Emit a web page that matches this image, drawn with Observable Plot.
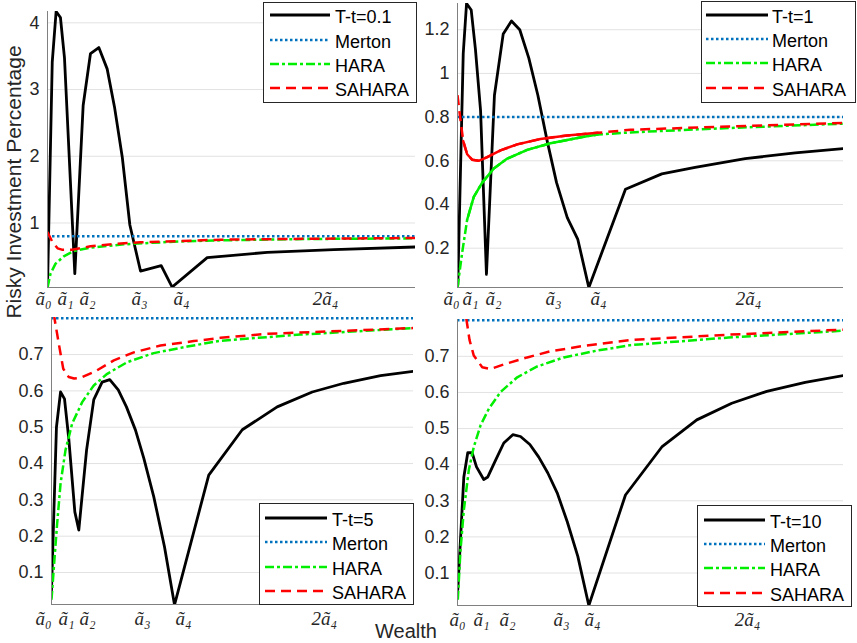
<!DOCTYPE html>
<html><head><meta charset="utf-8">
<script src="https://cdn.jsdelivr.net/npm/d3@7"></script>
<script src="https://cdn.jsdelivr.net/npm/@observablehq/plot@0.6"></script>
<style>
body{margin:0;background:#fff;}
#root{position:relative;width:857px;height:643px;overflow:hidden;font-family:"Liberation Sans",Arial,sans-serif;color:#262626;}
.abs{position:absolute;}
</style></head><body><div id="root"></div>
<script>
// ---------- data ----------
const xDomain = [0.07, 2.63];
const tickNames = ["ã₀","ã₁","ã₂","ã₃","ã₄","2ã₄"];
const merton = 0.8;

// T-t = 0.1
const w01 = [0.07,0.103,0.13,0.16,0.188,0.26,0.318,0.369,0.427,0.485,0.536,0.59,0.643,0.717,0.861,0.937,1.181,1.598,2.062,2.63];
const pi01 = [0.04,3.41,4.17,4.08,3.48,0.24,2.76,3.54,3.63,3.31,2.74,1.99,0.97,0.28,0.36,0.04,0.48,0.56,0.60,0.64];
const hw01 = [0.07,0.091,0.126,0.183,0.253,0.369,0.601,0.949,1.273,1.9,2.63];
const hara01 = [0.03,0.24,0.39,0.50,0.58,0.63,0.68,0.72,0.74,0.76,0.77];
const sw01 = [0.07,0.103,0.14,0.17,0.24,0.369,0.555,0.717,1.273,2.0,2.63];
const sahara01 = [0.865,0.72,0.62,0.60,0.60,0.65,0.69,0.71,0.75,0.765,0.775];
const ticks01 = [0.042,0.195,0.348,0.71,1.002,2.004];
const yTicks01 = [1,2,3,4];

// T-t = 1
const w1 = [0.072,0.108,0.13,0.161,0.189,0.223,0.262,0.315,0.373,0.428,0.483,0.543,0.603,0.665,0.727,0.798,0.868,0.941,1.184,1.425,1.646,1.978,2.31,2.63];
const pi1 = [0.03,1.09,1.32,1.29,1.11,0.83,0.08,0.90,1.18,1.24,1.20,1.07,0.90,0.69,0.50,0.34,0.24,0.02,0.47,0.54,0.57,0.61,0.636,0.656];
const hw1 = [0.07,0.101,0.134,0.178,0.234,0.311,0.40,0.532,0.687,0.908,1.0,1.217,1.867,2.63];
const hara1 = [0.02,0.18,0.33,0.435,0.50,0.565,0.61,0.65,0.68,0.71,0.72,0.73,0.75,0.77];
const sw1 = [0.07,0.09,0.108,0.134,0.167,0.211,0.267,0.355,0.466,0.62,0.797,1.0,1.217,1.867,2.63];
const sahara1 = [0.90,0.785,0.69,0.63,0.605,0.60,0.617,0.648,0.675,0.70,0.716,0.728,0.742,0.757,0.773];
const ticks1 = [0.03,0.156,0.309,0.707,1.005,2.0];
const yTicks1 = [0.2,0.4,0.6,0.8,1,1.2];

// T-t = 5
const w5 = [0.07,0.105,0.134,0.162,0.192,0.235,0.263,0.318,0.369,0.428,0.482,0.542,0.60,0.664,0.723,0.793,0.869,0.94,1.182,1.419,1.666,1.914,2.137,2.397,2.632];
const pi5 = [0.05,0.50,0.597,0.578,0.469,0.267,0.217,0.437,0.576,0.624,0.631,0.603,0.556,0.492,0.414,0.309,0.171,0.011,0.368,0.493,0.556,0.597,0.621,0.642,0.654];
const hw5 = [0.07,0.087,0.11,0.134,0.169,0.216,0.287,0.369,0.464,0.605,0.793,1.03,1.265,1.83,2.632];
const hara5 = [0.025,0.116,0.235,0.345,0.437,0.51,0.569,0.615,0.647,0.679,0.704,0.722,0.738,0.755,0.773];
const sw5 = [0.07,0.091,0.122,0.153,0.192,0.23,0.275,0.381,0.511,0.652,0.841,1.076,1.265,1.595,2.632];
const sahara5 = [0.90,0.80,0.729,0.661,0.638,0.634,0.636,0.654,0.684,0.706,0.725,0.737,0.746,0.757,0.773];
const ticks5 = [0.013,0.176,0.325,0.714,1.003,2.0];
const yTicks5 = [0.1,0.2,0.3,0.4,0.5,0.6,0.7];

// T-t = 10
const w10 = [0.072,0.112,0.138,0.167,0.196,0.244,0.271,0.322,0.377,0.437,0.488,0.55,0.609,0.669,0.731,0.798,0.868,0.941,1.184,1.425,1.657,1.889,2.121,2.376,2.63];
const pi10 = [0.054,0.366,0.433,0.433,0.394,0.359,0.366,0.412,0.46,0.483,0.478,0.456,0.421,0.377,0.322,0.242,0.146,0.01,0.316,0.449,0.524,0.570,0.603,0.628,0.647];
const hw10 = [0.072,0.09,0.112,0.145,0.178,0.223,0.278,0.355,0.466,0.599,0.775,0.997,1.217,1.867,2.63];
const hara10 = [0.026,0.164,0.274,0.385,0.449,0.509,0.555,0.601,0.642,0.672,0.697,0.716,0.731,0.752,0.771];
const sw10 = [0.072,0.13,0.15,0.178,0.234,0.289,0.388,0.532,0.687,0.908,1.217,1.867,2.63];
const sahara10 = [0.98,0.80,0.745,0.702,0.67,0.665,0.679,0.697,0.714,0.729,0.745,0.76,0.774];
const ticks10 = [0.07,0.229,0.402,0.76,0.965,1.993];
const yTicks10 = [0.1,0.2,0.3,0.4,0.5,0.6,0.7];

// ---------- layout / styles ----------
const S = {
  black:{stroke:"#000", width:2.8, dash:null},
  merton:{stroke:"#0072BD", width:2.5, dash:"2.5,2.5"},
  hara:{stroke:"#00ee00", width:2.5, dash:"9,3,3,3"},
  sahara:{stroke:"#ff0000", width:2.5, dash:"10,6"}
};
const panels = [
  {label:"T-t=0.1", w:w01, pi:pi01, hw:hw01, hara:hara01, sw:sw01, sahara:sahara01, ticks:ticks01, yTicks:yTicks01, yDomain:[0.033,4.17], solid:null,
   box:{left:0, top:0, width:428, height:320, mL:47, mR:13, mT:11, mB:33, pad:4},
   leg:{left:263, top:2, w:154, h:101, x0:7, x1:67, tx:72, rows:[13,38,62,86]}},
  {label:"T-t=1", w:w1, pi:pi1, hw:hw1, hara:hara1, sw:sw1, sahara:sahara1, ticks:ticks1, yTicks:yTicks1, yDomain:[0.02,1.32], solid:{hara:[0.134,1.0], sahara:[0.108,1.0]},
   box:{left:410, top:0, width:447, height:320, mL:47, mR:14, mT:3, mB:33, pad:4},
   leg:{left:701, top:1, w:155, h:102, x0:5, x1:67, tx:71, rows:[14,38,62,87]}},
  {label:"T-t=5", w:w5, pi:pi5, hw:hw5, hara:hara5, sw:sw5, sahara:sahara5, ticks:ticks5, yTicks:yTicks5, yDomain:[0.012,0.802], solid:null,
   box:{left:0, top:310, width:428, height:333, mL:51, mR:15, mT:7, mB:39, pad:7},
   leg:{left:259, top:503, w:155, h:102, x0:6, x1:68, tx:73, rows:[15,39,64,88]}},
  {label:"T-t=10", w:w10, pi:pi10, hw:hw10, hara:hara10, sw:sw10, sahara:sahara10, ticks:ticks10, yTicks:yTicks10, yDomain:[0.01,0.802], solid:null,
   box:{left:410, top:310, width:447, height:333, mL:47, mR:14, mT:9, mB:38, pad:7},
   leg:{left:697, top:505, w:155, h:102, x0:7, x1:68, tx:73, rows:[15,39,63,88]}}
];

const root = document.getElementById("root");
const zip = (xs, ys) => xs.map((x, i) => ({x, y: ys[i]}));
const lineOpts = (s, dash = s.dash) => ({x:"x", y:"y", stroke:s.stroke, strokeWidth:s.width, strokeDasharray:dash, strokeLinecap: dash ? "butt" : "round", strokeLinejoin:"round", clip:true});
const within = (rows, r) => rows.filter(d => d.x >= r[0] && d.x <= r[1]);

for (const p of panels) {
  const b = p.box;
  const tickMap = new Map(p.ticks.map((t, i) => [t, tickNames[i]]));
  const haraRows = zip(p.hw, p.hara), saharaRows = zip(p.sw, p.sahara);
  const extra = p.solid ? [
    Plot.line(within(haraRows, p.solid.hara), lineOpts(S.hara, null)),
    Plot.line(within(saharaRows, p.solid.sahara), lineOpts(S.sahara, null))
  ] : [];
  const chart = Plot.plot({
    width:b.width, height:b.height,
    marginLeft:b.mL, marginRight:b.mR, marginTop:b.mT, marginBottom:b.mB,
    style:{background:"transparent", overflow:"visible", fontFamily:"Liberation Sans, Arial, sans-serif", fontSize:"18px", color:"#262626"},
    x:{domain:xDomain},
    y:{domain:p.yDomain},
    marks:[
      Plot.gridY(p.yTicks, {stroke:"#e2e2e2", strokeOpacity:1, strokeWidth:1}),
      Plot.axisY(p.yTicks, {tickSize:0, tickPadding:8, tickFormat:d => String(d), fontSize:18, label:null}),
      Plot.axisX(p.ticks, {tickSize:0, tickPadding:b.pad, tickFormat:d => tickMap.get(d), fontFamily:"Liberation Serif, DejaVu Serif, serif", fontStyle:"italic", fontSize:19, label:null}),
      Plot.line(zip(p.w, p.pi), lineOpts(S.black)),
      Plot.ruleY([merton], {stroke:S.merton.stroke, strokeWidth:S.merton.width, strokeDasharray:S.merton.dash}),
      Plot.line(haraRows, lineOpts(S.hara)),
      Plot.line(saharaRows, lineOpts(S.sahara)),
      ...extra,
      Plot.ruleX([xDomain[0]], {stroke:"#808080", strokeWidth:1}),
      Plot.ruleY([p.yDomain[0]], {stroke:"#808080", strokeWidth:1})
    ]
  });
  chart.classList.add("abs");
  chart.style.left = b.left + "px";
  chart.style.top = b.top + "px";
  root.appendChild(chart);
}

// legends
for (const p of panels) {
  const L = p.leg;
  const entries = [[p.label, S.black], ["Merton", S.merton], ["HARA", S.hara], ["SAHARA", S.sahara]];
  const svg = d3.create("svg").attr("width", L.w).attr("height", L.h)
    .style("position","absolute").style("left", L.left + "px").style("top", L.top + "px");
  svg.append("rect").attr("x",0.5).attr("y",0.5).attr("width",L.w-1).attr("height",L.h-1)
    .attr("fill","#fff").attr("stroke","#262626").attr("stroke-width",1);
  entries.forEach(([name, s], i) => {
    const y = L.rows[i];
    svg.append("line").attr("x1",L.x0).attr("x2",L.x1).attr("y1",y).attr("y2",y)
      .attr("stroke",s.stroke).attr("stroke-width",s.width)
      .attr("stroke-dasharray", s.dash).attr("stroke-linecap","butt");
    svg.append("text").attr("x",L.tx).attr("y",y+1.5).attr("dominant-baseline","central")
      .attr("font-family","Liberation Sans, Arial, sans-serif").attr("font-size",18).attr("fill","#000").text(name);
  });
  root.appendChild(svg.node());
}

// axis titles
const yl = document.createElement("div");
yl.className = "abs";
yl.textContent = "Risky Investment Percentage";
Object.assign(yl.style, {left:"13px", top:"182px", fontSize:"21px", whiteSpace:"nowrap", transform:"translate(-50%,-50%) rotate(-90deg)", lineHeight:"1"});
root.appendChild(yl);
const xl = document.createElement("div");
xl.className = "abs";
xl.textContent = "Wealth";
Object.assign(xl.style, {left:"406px", top:"631px", fontSize:"20px", whiteSpace:"nowrap", transform:"translate(-50%,-50%)", lineHeight:"1"});
root.appendChild(xl);
</script>
</body></html>
